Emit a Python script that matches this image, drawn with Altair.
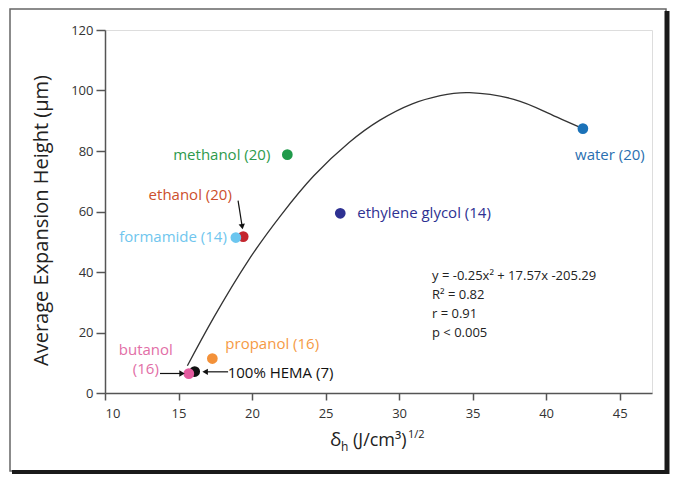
import altair as alt
import pandas as pd

# ---- data ----
solvents = ["water (20)", "methanol (20)", "ethylene glycol (14)", "ethanol (20)",
            "formamide (14)", "propanol (16)", "100% HEMA (7)", "butanol (16)"]
delta_h = [42.5, 22.4, 26.0, 19.4, 18.9, 17.3, 16.1, 15.7]
exp_height = [87.4, 78.8, 59.4, 51.7, 51.4, 11.4, 7.1, 6.4]
point_colors = ["#1b72b8", "#1f9a4a", "#2e3192", "#c4262e", "#6cc6ef", "#f39139", "#111111", "#e45b9f"]
label_colors = ["#2a6fb0", "#2e9a4c", "#2e3192", "#cc4f2c", "#70c6ee", "#f59a45", "#111111", "#e26ea6"]

fit_x = [15.6, 17.4, 19.8, 22.0, 24.2, 26.6, 28.7, 30.9, 32.8, 34.8, 37.8, 40.1, 42.5]
fit_y = [9.0, 25.0, 44.2, 59.0, 71.8, 82.8, 90.2, 95.6, 98.3, 99.3, 97.1, 92.6, 87.4]

arrow_x1 = [19.05, 13.74, 18.37]
arrow_y1 = [63.6, 6.45, 7.0]
arrow_x2 = [19.33, 15.24, 16.81]
arrow_y2 = [55.0, 6.45, 7.0]
arrow_angle = [171, 90, 270]

stats_lines = ["y = -0.25x\u00b2 + 17.57x -205.29", "R\u00b2 = 0.82", "r = 0.91", "p < 0.005"]
x_ticks = [10, 15, 20, 25, 30, 35, 40, 45]
y_ticks = [0, 20, 40, 60, 80, 100, 120]

pts = pd.DataFrame({"solvent": solvents, "dh": delta_h, "h": exp_height,
                    "order": list(range(len(solvents)))})
fit = pd.DataFrame({"dh": fit_x, "h": fit_y})
arrows = pd.DataFrame({"x1": arrow_x1, "y1": arrow_y1, "x2": arrow_x2, "y2": arrow_y2,
                       "angle": arrow_angle})
one = pd.DataFrame({"a": [0]})

FONT = "Open Sans"
W, H = 547, 363

xs = alt.Scale(domain=[10, 47.2], nice=False, zero=False)
ys = alt.Scale(domain=[0, 120], nice=False)

x_axis = alt.Axis(values=x_ticks, title=None, grid=False, tickSize=7, labelPadding=7,
                  labelFontSize=13, labelColor="#333", domainColor="#555", tickColor="#555",
                  domainWidth=1.5, tickWidth=1.5, labelFont=FONT)
y_axis = alt.Axis(values=y_ticks, title="Average Expansion Height (\u00b5m)", grid=False,
                  tickSize=9, labelPadding=3, labelFontSize=13, labelColor="#333",
                  domainColor="#555", tickColor="#555", domainWidth=1.5, tickWidth=1.5,
                  labelFont=FONT, titleFont=FONT, titleFontSize=20, titleFontWeight="normal",
                  titleColor="#222", titleX=-58, titleY=190, titleBaseline="alphabetic",
                  titleAlign="center", titleAngle=270)

base_x = alt.X("dh:Q", scale=xs, axis=x_axis)
base_y = alt.Y("h:Q", scale=ys, axis=y_axis)

curve = alt.Chart(fit).mark_line(color="#333", strokeWidth=1.3, interpolate="natural").encode(
    x=base_x, y=base_y)

points = alt.Chart(pts).mark_circle(size=115, opacity=1).encode(
    x=alt.X("dh:Q", scale=xs), y=alt.Y("h:Q", scale=ys),
    color=alt.Color("solvent:N", scale=alt.Scale(domain=solvents, range=point_colors), legend=None),
    order=alt.Order("order:Q"))

label_specs = [
    # (solvent index, dx, dy, align)
    (0, 27, 26, "center"),
    (1, -17, 0, "right"),
    (2, 17, 0, "left"),
    (3, -53, -42, "center"),
    (4, -9, -1, "right"),
    (5, 13, -15, "left"),
    (6, 33, 1, "left"),
    (7, -43, -24, "center"),
]
label_layers = []
for idx, dx, dy, align in label_specs:
    name = solvents[idx]
    label_layers.append(
        alt.Chart(pts).transform_filter(alt.datum.solvent == name).mark_text(
            dx=dx, dy=dy, align=align, baseline="middle", fontSize=15, font=FONT,
            color=label_colors[idx], lineBreak=" " if idx == 7 else "\n", lineHeight=19
        ).encode(x=alt.X("dh:Q", scale=xs), y=alt.Y("h:Q", scale=ys), text="solvent:N")
    )

shafts = alt.Chart(arrows).mark_rule(color="#111", strokeWidth=1.2).encode(
    x=alt.X("x1:Q", scale=xs), y=alt.Y("y1:Q", scale=ys),
    x2="x2:Q", y2="y2:Q")
heads = alt.Chart(arrows).mark_point(shape="triangle-up", filled=True, color="#111",
                                     size=40, opacity=1).encode(
    x=alt.X("x2:Q", scale=xs), y=alt.Y("y2:Q", scale=ys), angle=alt.Angle("angle:Q", scale=None))

stats = alt.Chart(one).mark_text(align="left", baseline="top", fontSize=13, font=FONT,
                                 color="#222", lineHeight=19).encode(
    x=alt.value(327), y=alt.value(240), text=alt.value(stats_lines))

# x-axis title pieces: delta_h (J/cm3)^1/2
x0 = 225
tb = 416
t1 = alt.Chart(one).mark_text(align="left", baseline="alphabetic", fontSize=19, font=FONT,
                              color="#222").encode(x=alt.value(x0), y=alt.value(tb), text=alt.value("\u03b4"))
t2 = alt.Chart(one).mark_text(align="left", baseline="alphabetic", fontSize=12, font=FONT,
                              color="#222").encode(x=alt.value(x0 + 11), y=alt.value(tb + 5), text=alt.value("h"))
t3 = alt.Chart(one).mark_text(align="left", baseline="alphabetic", fontSize=18, font=FONT,
                              color="#222").encode(x=alt.value(x0 + 23), y=alt.value(tb), text=alt.value("(J/cm\u00b3)"))
t4 = alt.Chart(one).mark_text(align="left", baseline="alphabetic", fontSize=11, font=FONT,
                              color="#222").encode(x=alt.value(x0 + 78), y=alt.value(tb - 8), text=alt.value("1/2"))

# decorative frame around the figure
frame = alt.Chart(one).mark_rect(fillOpacity=0, stroke="#666", strokeWidth=1.5).encode(
    x=alt.value(-95), x2=alt.value(561), y=alt.value(-21), y2=alt.value(441))
right_band = alt.Chart(one).mark_rule(color="#1a1a1a", strokeWidth=5).encode(
    x=alt.value(562), y=alt.value(-19), y2=alt.value(444))
bottom_band = alt.Chart(one).mark_rule(color="#1a1a1a", strokeWidth=4).encode(
    x=alt.value(-93), x2=alt.value(564), y=alt.value(442))

chart = alt.layer(
    frame, right_band, bottom_band, curve, points, *label_layers, shafts, heads, stats,
    t1, t2, t3, t4
).properties(
    width=W, height=H,
    autosize=alt.AutoSizeParams(type="none"),
    padding={"left": 97, "top": 22, "right": 18, "bottom": 81},
).configure_view(stroke=None).configure(font=FONT)

chart.save("out.html", embed_options={"renderer": "svg", "actions": False})
